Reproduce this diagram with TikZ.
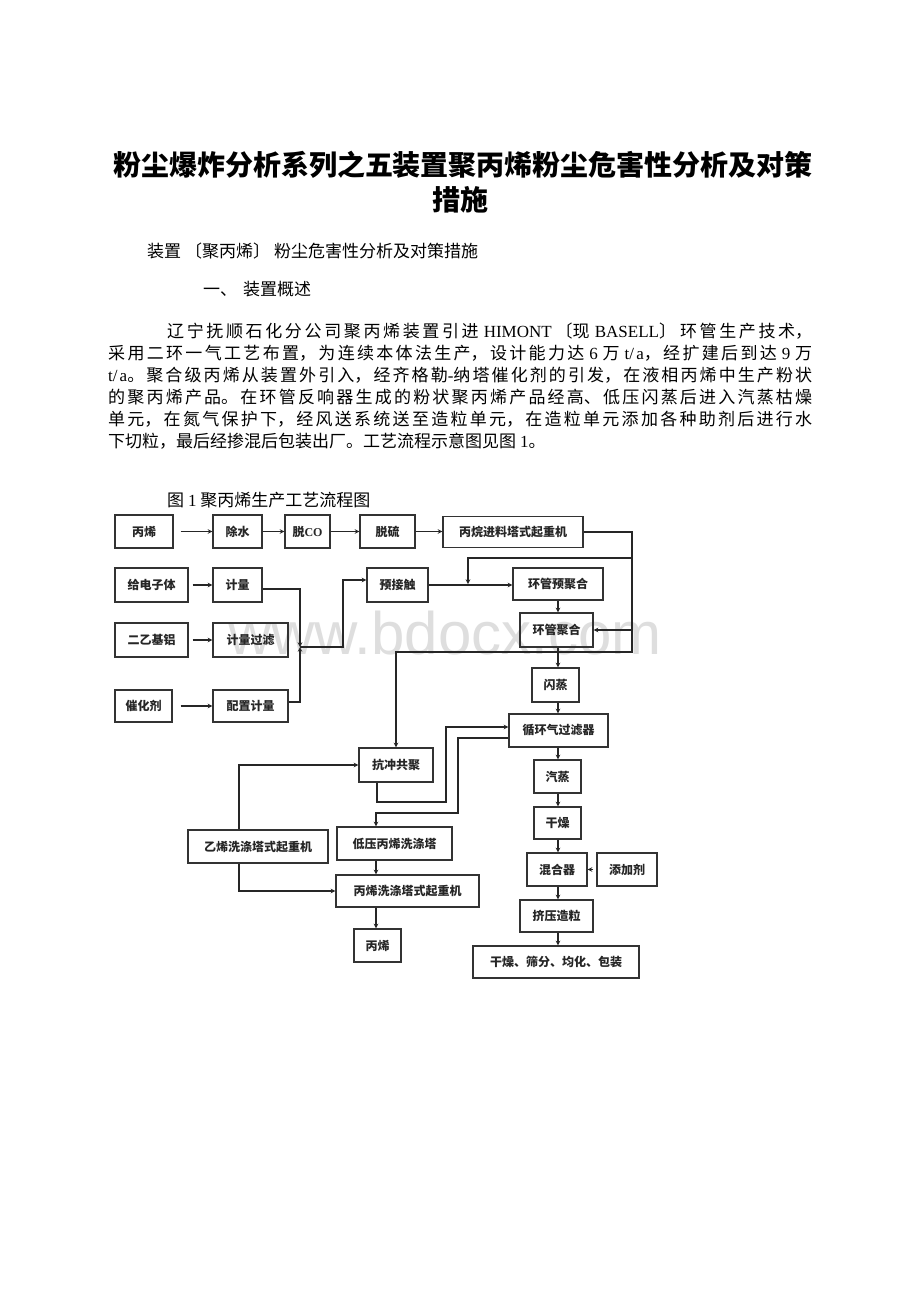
\documentclass[tikz,border=0pt]{standalone}
\usepackage{fontspec}
\setmainfont{Liberation Serif}
\newfontfamily\cjk{Noto Sans CJK SC}
\newfontfamily\marksans{Liberation Sans}
\newcommand\lat[1]{{\rmfamily #1}}
\newcommand\lbr{\hspace{4pt}〔}
\newcommand\rbr{〕\hspace{4pt}}
\usetikzlibrary{arrows}
\tikzset{
  box/.style={
    rectangle,
    draw=black!80,
    line width=1.2pt,
    inner sep=0pt,
    text=black!85,
    font=\fontsize{12}{12}\cjk\bfseries
    },
  arrow/.style={line width=1.1pt,draw=black!85,->,>=stealth},
  line/.style={line width=1.1pt,draw=black!85},
}

\begin{document}
\begin{tikzpicture}[x=1pt,y=-1pt]
\fill [white] (0,0) rectangle (920,1302);
\useasboundingbox (0,0) rectangle (920,1302);

% page text
\node (title) [anchor=base, font=\fontsize{28}{28}\cjk\bfseries] at (463,175) {粉尘爆炸分析系列之五装置聚丙烯粉尘危害性分析及对策};
\node (title2) [anchor=base, font=\fontsize{28}{28}\cjk\bfseries] at (460,210) {措施};
\node (sub) [anchor=base west, inner sep=0pt, font=\fontsize{17}{17}\cjk] at (147,257.5) {装置\lbr 聚丙烯\rbr 粉尘危害性分析及对策措施};
\node (sec) [anchor=base west, inner sep=0pt, font=\fontsize{17}{17}\cjk] at (203,295.5) {一、\hspace{6pt}装置概述};
\node (body) [anchor=north west, text width=704pt, align=justify, inner sep=0pt, font=\fontsize{17}{22}\cjk] at (108,322.5)
  {\XeTeXlinebreaklocale "zh"\XeTeXlinebreakskip=0pt plus 4pt\rule{0pt}{15pt}\hspace*{59pt}辽宁抚顺石化分公司聚丙烯装置引进 \lat{HIMONT}\lbr 现 \lat{BASELL}\rbr 环管生产技术，\linebreak
  采用二环一气工艺布置，为连续本体法生产，设计能力达 \lat{6} 万 \lat{t/a}，经扩建后到达 \lat{9} 万\linebreak
  \lat{t/a}。聚合级丙烯从装置外引入，经齐格勒\lat{-}纳塔催化剂的引发，在液相丙烯中生产粉状\linebreak
  的聚丙烯产品。在环管反响器生成的粉状聚丙烯产品经高、低压闪蒸后进入汽蒸枯燥\linebreak
  单元，在氮气保护下，经风送系统送至造粒单元，在造粒单元添加各种助剂后进行水\linebreak
  下切粒，最后经掺混后包装出厂。工艺流程示意图见图 \lat{1}。};
\node (cap) [anchor=base west, inner sep=0pt, font=\fontsize{17}{17}\cjk] at (167,506.5) {图 \lat{1} 聚丙烯生产工艺流程图};

% watermark
\node (mark) [text=black!13, font=\fontsize{60}{60}\marksans] at (445,633) {www.bdocx.com};

% flow chart boxes
\node (propA) [box, minimum width=58pt, minimum height=33pt] at (144,531.5) {丙烯};
\node (water) [box, minimum width=49pt, minimum height=33pt] at (237.5,531.5) {除水};
\node (co) [box, minimum width=45pt, minimum height=33pt] at (307.5,531.5) {脱\lat{CO}};
\node (sulfur) [box, minimum width=55pt, minimum height=33pt] at (387.5,531.5) {脱硫};
\node (feed) [box, minimum width=140pt, minimum height=31pt] at (513,532) {丙烷进料塔式起重机};

\node (donor) [box, minimum width=73pt, minimum height=34pt] at (151.5,585) {给电子体};
\node (meter) [box, minimum width=49pt, minimum height=34pt] at (237.5,585) {计量};
\node (precon) [box, minimum width=61pt, minimum height=34pt] at (397.5,585) {预接触};
\node (prepoly) [box, minimum width=90pt, minimum height=32pt] at (558,584) {环管预聚合};

\node (teal) [box, minimum width=73pt, minimum height=34pt] at (151.5,640) {二乙基铝};
\node (meterf) [box, minimum width=75pt, minimum height=34pt] at (250.5,640) {计量过滤};
\node (loop) [box, minimum width=73pt, minimum height=34pt] at (556.5,630) {环管聚合};

\node (cat) [box, minimum width=57pt, minimum height=32pt] at (143.5,706) {催化剂};
\node (prep) [box, minimum width=75pt, minimum height=32pt] at (250.5,706) {配置计量};
\node (flash) [box, minimum width=47pt, minimum height=34pt] at (555.5,685) {闪蒸};

\node (filter) [box, minimum width=99pt, minimum height=33pt] at (558.5,730.5) {循环气过滤器};
\node (impact) [box, minimum width=74pt, minimum height=34pt] at (396,765) {抗冲共聚};
\node (steam) [box, minimum width=47pt, minimum height=33pt] at (557.5,776.5) {汽蒸};
\node (dry) [box, minimum width=47pt, minimum height=32pt] at (557.5,823) {干燥};

\node (ethwash) [box, minimum width=140pt, minimum height=33pt] at (258,846.5) {乙烯洗涤塔式起重机};
\node (lpwash) [box, minimum width=115pt, minimum height=33pt] at (394.5,843.5) {低压丙烯洗涤塔};
\node (mixer) [box, minimum width=60pt, minimum height=33pt] at (557,869.5) {混合器};
\node (additive) [box, minimum width=60pt, minimum height=33pt] at (627,869.5) {添加剂};

\node (propwash) [box, minimum width=143pt, minimum height=32pt] at (407.5,891) {丙烯洗涤塔式起重机};
\node (extrude) [box, minimum width=73pt, minimum height=32pt] at (556.5,916) {挤压造粒};
\node (propB) [box, minimum width=47pt, minimum height=33pt] at (377.5,945.5) {丙烯};
\node (pack) [box, minimum width=166pt, minimum height=32pt] at (556,962) {干燥、筛分、均化、包装};

% helper points
\coordinate (mid) at (558,0);
\coordinate (col) at (376,0);
\coordinate (join) at (300,647);
\coordinate (tap) at (468,584);
\coordinate (c1) at (632,558);
\coordinate (c2) at (632,652);
\coordinate (r1) at (446,802);
\coordinate (r2) at (446,727);
\coordinate (r3) at (458,738);
\coordinate (r4) at (458,813);

% feed lines
\foreach \a/\b/\gap in {propA/water/7, water/co/0, co/sulfur/0, sulfur/feed/0, donor/meter/4, teal/meterf/4, cat/prep/8}
  \draw [arrow, shorten <=\gap pt] (\a.east) -- (\a.east -| \b.west);
\draw [arrow] ([yshift=-4pt]meter.east) -| (join);
\draw [arrow] ([yshift=4pt]prep.east) -| (join);
\draw [arrow] (join) -- ++(43,0) |- ([yshift=5pt]precon.west);
\draw [arrow] (precon.east) -- (precon.east -| prepoly.west);
\draw [arrow] (feed.east) -| (c2) -| (impact.north);
\draw [arrow] (c1) -| (tap);
\draw [arrow] (loop.east -| c1) -- (loop.east);

% main column
\foreach \a/\b in {prepoly/loop, loop/flash, flash/filter, filter/steam, steam/dry, dry/mixer, mixer/extrude, extrude/pack}
  \draw [arrow] (\a.south -| mid) -- (\b.north -| mid);
\draw [arrow, shorten <=3pt] (additive.west) -- (mixer.east);

% washing side
\draw [arrow] ([xshift=-19pt]impact.south) |- (r1) -- (r2) -- (r2 -| filter.west);
\draw [arrow] (r3 -| filter.west) -- (r3) -- (r4) -| (lpwash.north -| col);
\draw [arrow] ([xshift=-19pt]ethwash.north) |- (impact.west);
\draw [arrow] ([xshift=-19pt]ethwash.south) |- (propwash.west);
\draw [arrow] (lpwash.south -| col) -- (propwash.north -| col);
\draw [arrow] (propwash.south -| col) -- (propB.north -| col);

\end{tikzpicture}
\end{document}
